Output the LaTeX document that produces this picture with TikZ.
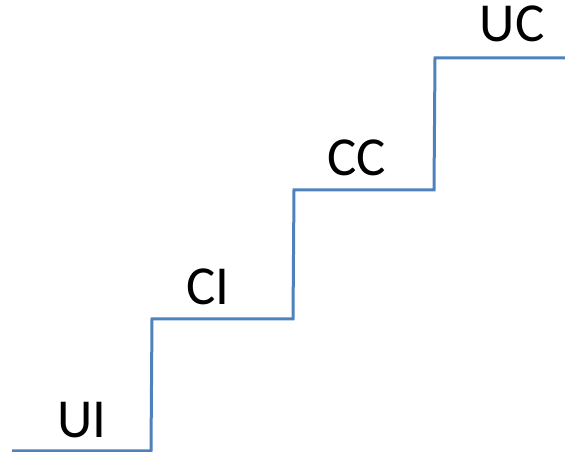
\documentclass[tikz,border=0pt]{standalone}
\usepackage{fontspec}
\setmainfont{Carlito}
\definecolor{stairblue}{HTML}{4F81BD}
\begin{document}
\begin{tikzpicture}[x=1pt,y=1pt,
  stair/.style={draw=stairblue,line width=3pt,line join=miter},
  lbl/.style={anchor=base,inner sep=0pt,font=\fontsize{55}{60}\selectfont}]
\useasboundingbox (0,0) rectangle (565,452);
\coordinate (p0) at (12,1);
\coordinate (p1) at (151,1);
\coordinate (p2) at (152,133);
\coordinate (p3) at (293,133);
\coordinate (p4) at (294,262);
\coordinate (p5) at (434,262);
\coordinate (p6) at (435,394);
\coordinate (p7) at (565,394);
\draw[stair] (p0) -- (p1) -- (p2) -- (p3) -- (p4) -- (p5) -- (p6) -- (p7);
\node[lbl] (ui) at (82,14) {UI};
\node[lbl] (ci) at (208,147) {CI};
\node[lbl] (cc) at (357,276) {CC};
\node[lbl] (uc) at (512,410) {UC};
\end{tikzpicture}
\end{document}
